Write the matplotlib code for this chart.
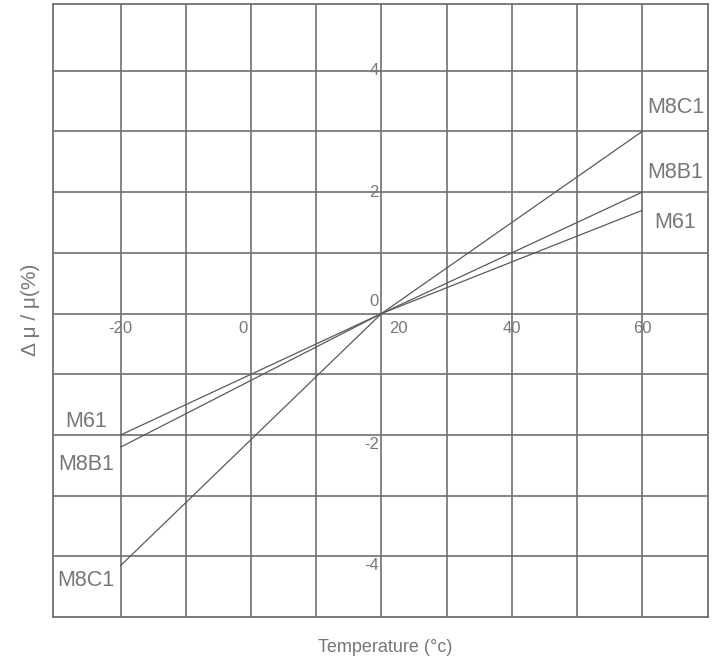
import matplotlib
matplotlib.use("Agg")
import numpy as np
import matplotlib.pyplot as plt

plt.rcParams['font.family'] = ['Liberation Sans', 'DejaVu Sans']

### data
temps = [-20, 20, 60]
m8c1 = [-4.15, 0.0, 3.0]
m8b1 = [-2.2, 0.0, 2.0]
m61 = [-2.0, 0.0, 1.7]

x_ticks = [-20, 0, 20, 40, 60]
y_ticks = [4, 2, 0, -2, -4]

gray = '#707070'
txt = '#777777'

fig = plt.figure(figsize=(7.17, 6.65), dpi=100)
ax = fig.add_axes([53/717, 48/665, 655/717, 613/665])

### grid (outer box is the spines)
ax.set_xlim(-30.4, 70.1)
ax.set_ylim(-5.0, 5.1)
ax.set_xticks(np.arange(-20, 61, 10))
ax.set_yticks(np.arange(-4, 5, 1))
ax.grid(True, color=gray, lw=1.2)
ax.tick_params(length=0, labelbottom=False, labelleft=False)
for s in ax.spines.values():
    s.set_color(gray)
    s.set_linewidth(1.3)

### curves
for ys in (m8c1, m8b1, m61):
    ax.plot(temps, ys, color='#5a5a5a', lw=0.9)

### tick labels (inside the grid, like the original sheet)
x_shift = {-20: 0, 0: -1.2, 20: 2.6, 40: 0, 60: 0}
for v in x_ticks:
    ax.text(v + x_shift[v], -0.12, str(v), ha='center', va='top',
            fontsize=12, color=txt)
y_shift = {4: 0.0, 2: 0.0, 0: 0.2, -2: -0.15, -4: -0.15}
for v in y_ticks:
    ax.text(19.6, v + y_shift[v], str(v), ha='right', va='center',
            fontsize=12, color=txt)

### series names
ax.text(65.1, 3.4, 'M8C1', ha='center', va='center', fontsize=15.5, color=txt)
ax.text(65.1, 2.33, 'M8B1', ha='center', va='center', fontsize=15.5, color=txt)
ax.text(65.1, 1.5, 'M61', ha='center', va='center', fontsize=15.5, color=txt)
ax.text(-25.3, -1.78, 'M61', ha='center', va='center', fontsize=15.5, color=txt)
ax.text(-25.3, -2.48, 'M8B1', ha='center', va='center', fontsize=15.5, color=txt)
ax.text(-25.3, -4.4, 'M8C1', ha='center', va='center', fontsize=15.5, color=txt)

### axis titles
fig.text(385/717, 1 - 648/665, 'Temperature (°c)', ha='center', va='center',
         fontsize=13, color=txt)
fig.text(30/717, 1 - 310/665, 'Δ μ / μ(%)', ha='center', va='center',
         rotation=90, fontsize=15, color=txt)

fig.savefig('out.png', dpi=100, facecolor='white')
